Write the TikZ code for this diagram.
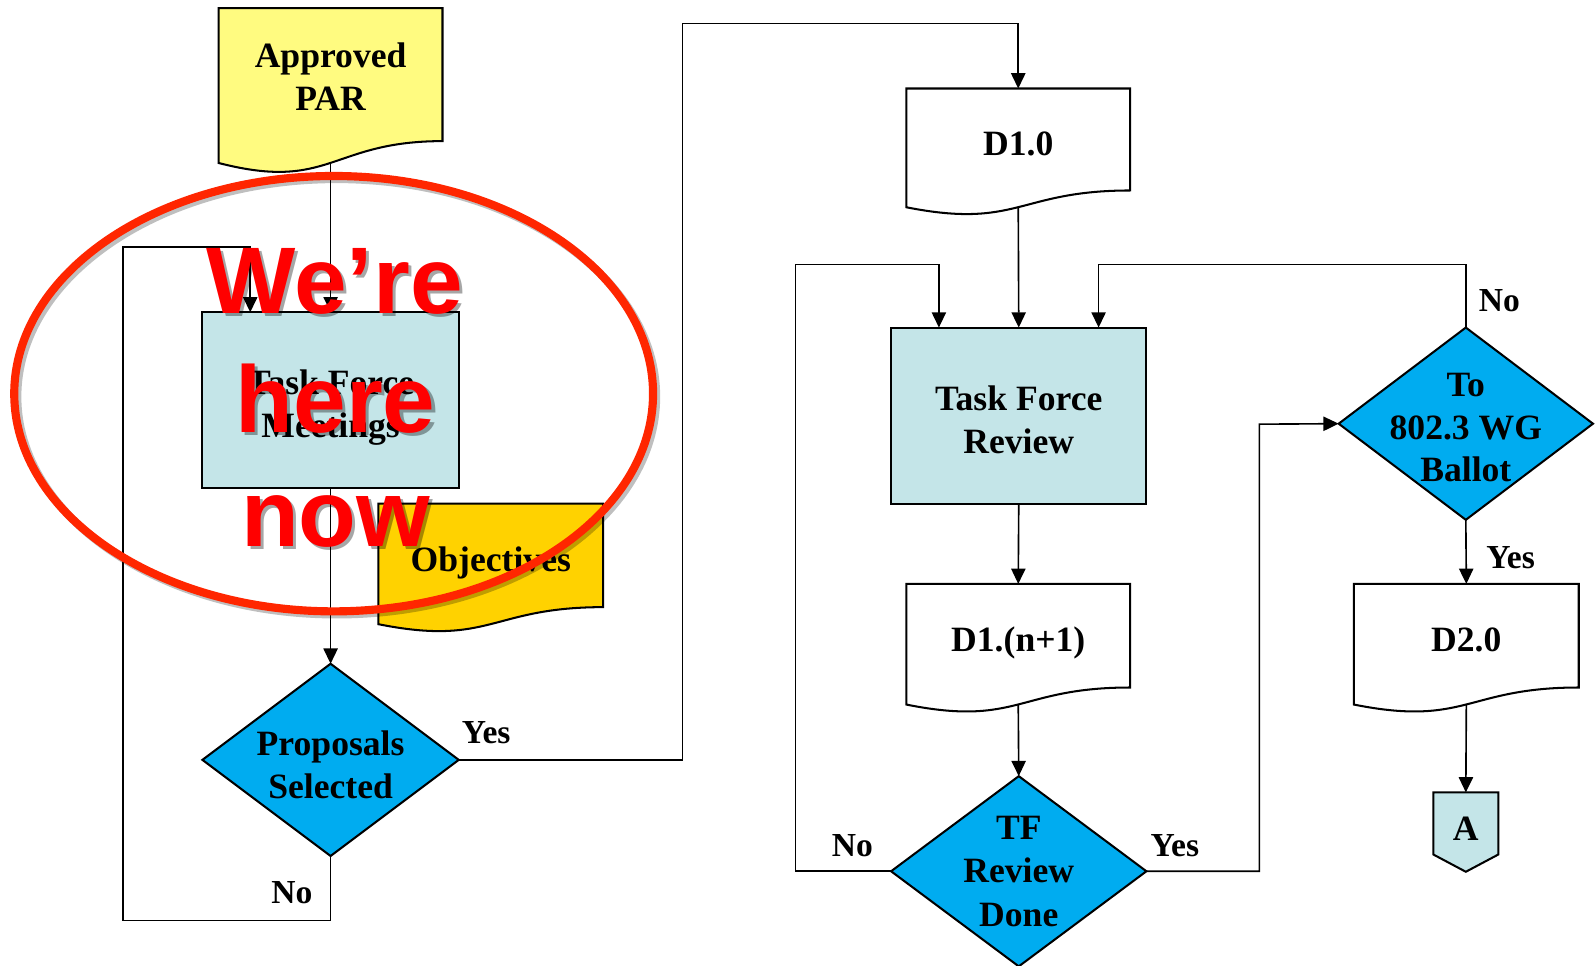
\documentclass[tikz,border=0pt]{standalone}
\usepackage{fontspec}
\setmainfont{Liberation Serif}
\newfontfamily\redfont{Liberation Sans}
\usetikzlibrary{arrows.meta,calc,backgrounds}
\pgfdeclarelayer{bottom}
\pgfsetlayers{bottom,background,main}
\definecolor{paryellow}{RGB}{255,251,128}
\definecolor{objgold}{RGB}{255,210,0}
\definecolor{boxcyan}{RGB}{196,229,232}
\definecolor{decblue}{RGB}{0,172,240}
\definecolor{circred}{RGB}{255,38,0}
\definecolor{txtred}{RGB}{255,0,0}
% document shape: name, x0, y0, w, h, fill, text, text shift
\newcommand\mydoc[8]{%
  \node[lbl, anchor=north west, minimum width=#4pt, minimum height=0.802*#5pt] (#1) at (#2,#3) {};
  \node[lbl] (#1-t) at ($(#1.center)+(0,#8)$) {#7};
  \begin{scope}[on background layer]
    \path[border, fill=#6] (#1.north west) -- (#1.north east) -- (#1.south east)
      .. controls (#1.south) and ($(#1.south)+(0,0.306*#5)$) .. ($(#1.south west)+(0,0.132*#5)$) -- cycle;
  \end{scope}
  \coordinate (#1-b) at ($(#1.south)+(0,0.131*#5)$);
}
% decision: name, x, y, w, h, text, text shift
\newcommand\mydec[7]{%
  \node[lbl, minimum width=#4pt, minimum height=#5pt] (#1) at (#2,#3) {};
  \node[lbl] (#1-t) at ($(#1.center)+(0,#7)$) {#6};
  \begin{scope}[on background layer]
    \path[border, fill=decblue] (#1.north) -- (#1.east) -- (#1.south) -- (#1.west) -- cycle;
  \end{scope}
}
\begin{document}
\begin{tikzpicture}[x=1pt,y=-1pt,
  lbl/.style={font=\bfseries\fontsize{35}{42}\selectfont, align=center, inner sep=0pt, outer sep=0pt},
  yn/.style={font=\bfseries\fontsize{33}{38}\selectfont, inner sep=0pt},
  border/.style={draw=black, line width=2pt, line join=miter},
  procbox/.style={lbl, draw=black, line width=2pt, fill=boxcyan},
  conn/.style={line width=1.6pt, -{Triangle[length=15pt,width=14pt]}},
  redtxt/.style={font=\redfont\bfseries\fontsize{93}{110}\selectfont, text=txtred, anchor=base, inner sep=0pt},
  redshadow/.style={font=\redfont\bfseries\fontsize{93}{110}\selectfont, text=black, opacity=0.35, anchor=base, inner sep=0pt}
]
\useasboundingbox (0,0) rectangle (1568,948.7);
\begin{pgfonlayer}{bottom}
  \fill[white] (0,0) rectangle (1568,948.7);
\end{pgfonlayer}

% ---------- shapes ----------
\mydoc{par}{215}{8}{220}{163}{paryellow}{Approved\\PAR}{2}
\node[procbox, minimum width=252pt, minimum height=173pt] (tfm) at (325,393.5) {};
\node[lbl] (tfm-t) at ($(tfm.center)+(0,7)$) {Task Force\\Meetings};
\mydoc{obj}{372}{495}{221}{127}{objgold}{Objectives}{7}
\mydec{ps}{325}{747}{252}{189}{Proposals\\Selected}{5}

\mydoc{d10}{891}{87}{220}{125}{white}{D1.0}{4}
\node[procbox, minimum width=251pt, minimum height=173pt] (tfr) at (1001.5,408.5) {};
\node[lbl] (tfr-t) at ($(tfr.center)+(0,4)$) {Task Force\\Review};
\mydoc{d1n}{891}{574}{220}{127}{white}{D1.(n+1)}{7}
\mydec{tfd}{1001.5}{856.5}{251}{187}{TF\\[1pt]Review\\[1pt]Done}{0}

\mydec{ball}{1441}{416.5}{250}{189}{To\\802.3 WG\\Ballot}{4}
\mydoc{d20}{1331}{574}{221}{127}{white}{D2.0}{4}

\node[lbl, minimum width=64pt, minimum height=78pt] (conA) at (1441,818) {};
\begin{scope}[on background layer]
  \path[border, fill=boxcyan] (conA.north west) -- (conA.north east) -- ($(conA.south east)+(0,-17)$)
    -- (conA.south) -- ($(conA.south west)+(0,-17)$) -- cycle;
\end{scope}
\node[lbl] (conAtxt) at (1441,815) {A};

% ---------- helper coordinates ----------
\coordinate (l1) at (121,905);
\coordinate (l2) at (121,243);
\coordinate (tfmin) at ($(tfm.north west)+(47,0)$);
\coordinate (y1) at (671,23);
\coordinate (n1) at (782,260);
\coordinate (tfrin1) at ($(tfr.north west)+(47,0)$);
\coordinate (y2) at (1238,417);
\coordinate (n2) at (1441,260);
\coordinate (tfrin2) at ($(tfr.north west)+(204,0)$);

% ---------- connectors ----------
\draw[conn] (par-b) -- (tfm.north);
\draw[conn] (tfm.south) -- (ps.north);
\draw[conn] (ps.south) |- (l1) -- (l2) -| (tfmin);
\draw[conn] (ps.east) -| (y1) -| (d10.north);
\draw[conn] (d10-b) -- (tfr.north);
\draw[conn] (tfr.south) -- (d1n.north);
\draw[conn] (d1n-b) -- (tfd.north);
\draw[conn] (tfd.west) -| (n1) -| (tfrin1);
\draw[conn] (tfd.east) -| (y2) -- (ball.west);
\draw[conn] (ball.north) -- (n2) -| (tfrin2);
\draw[conn] (ball.south) -- (d20.north);
\draw[conn] (d20-b) -- (conA.north);

% ---------- branch labels ----------
\node[yn] (lyes1) at (478,720) {Yes};
\node[yn] (lno1) at (287,878) {No};
\node[yn] (lno2) at (838,831) {No};
\node[yn] (lyes2) at (1155,831) {Yes};
\node[yn] (lno3) at (1474,296) {No};
\node[yn] (lyes3) at (1485,548) {Yes};

% ---------- red highlight ----------
\draw[black, opacity=0.25, line width=8pt] (331,390) ellipse [x radius=314pt, y radius=214pt];
\draw[circred, line width=8pt] (328,387) ellipse [x radius=314pt, y radius=214pt];
\node[redshadow] (s1) at (332,311) {We’re};
\node[redshadow] (s2) at (333,428) {here};
\node[redshadow] (s3) at (333,540) {now};
\node[redtxt] (w1) at (329,308) {We’re};
\node[redtxt] (w2) at (330,425) {here};
\node[redtxt] (w3) at (330,537) {now};
\end{tikzpicture}
\end{document}
